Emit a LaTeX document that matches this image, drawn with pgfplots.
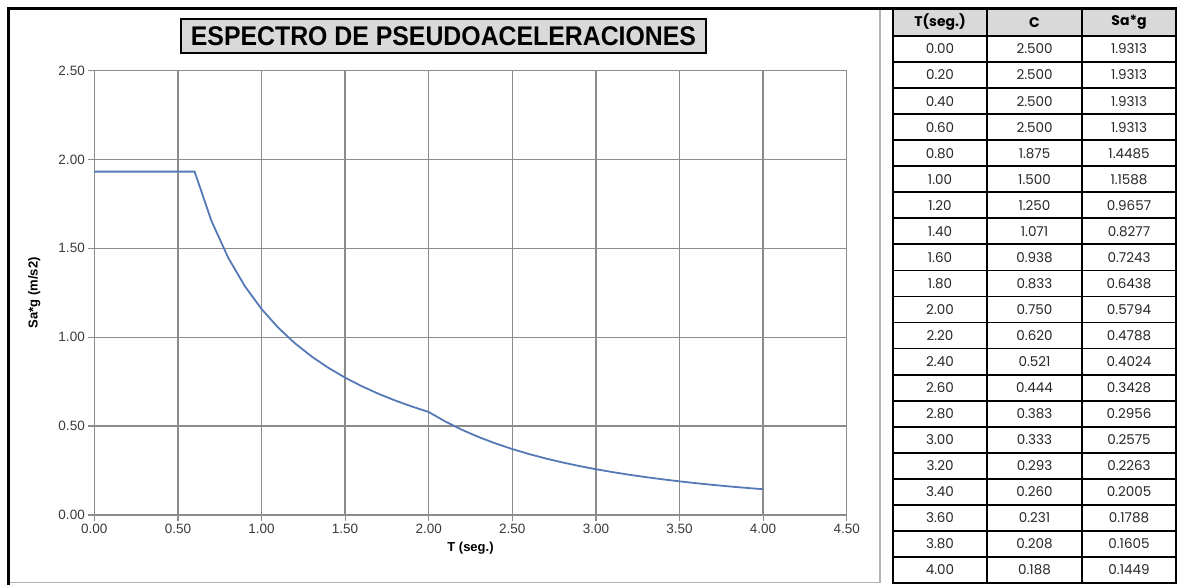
\documentclass[border=0pt]{standalone}
\usepackage{pgfplots}
\pgfplotsset{compat=1.18}
\usepackage{fontspec}
\setmainfont{Liberation Sans}
\newfontfamily\tabfont{Poppins}

\definecolor{curve}{HTML}{5479B4}
\definecolor{gridc}{HTML}{8C8C8C}
\definecolor{hdr}{HTML}{D9D9D9}
\definecolor{ticktxt}{HTML}{3A3A3A}
\definecolor{frame}{HTML}{B4B4B4}

\begin{document}
\begin{tikzpicture}[x=1pt,y=1pt]
\useasboundingbox (0,0) rectangle (1182,585);

% chart area border
\draw[frame, line width=1.8] (8.5,2.5) -- (880,2.5) -- (880,576.5);
\draw[black, line width=2.5] (8.5,0) -- (8.5,576.5) -- (1176,576.5);

% title box
\draw[black, line width=1.6, fill=hdr] (181,532) rectangle (706,566);
\node at (443.5,549) {\scalebox{0.92}[1]{\fontsize{27}{27}\selectfont\bfseries ESPECTRO DE PSEUDOACELERACIONES}};

\begin{axis}[
    at={(94.3pt,70pt)}, anchor=origin,
    scale only axis,
    width=752.4pt, height=444.5pt,
    xmin=0, xmax=4.5,
    ymin=0, ymax=2.5,
    xtick={0,0.5,1,1.5,2,2.5,3,3.5,4,4.5},
    ytick={0,0.5,1,1.5,2,2.5},
    xtick pos=bottom, ytick pos=left,
    tick align=outside,
    major tick length=6pt,
    tick style={gridc, line width=1.2pt},
    grid=major,
    grid style={gridc, line width=1.3pt},
    axis line style={gridc, line width=1.3pt},
    ticklabel style={font=\fontsize{13.5}{14}\selectfont, text=ticktxt},
    xticklabel style={/pgf/number format/.cd, fixed, fixed zerofill, precision=2, assume math mode=true},
    yticklabel style={/pgf/number format/.cd, fixed, fixed zerofill, precision=2, assume math mode=true},
    xlabel={T (seg.)},
    ylabel={Sa*g (m/s2)},
    xlabel style={at={(axis description cs:0.5,-0.0742)}, anchor=center,
                  font=\fontsize{13}{14}\selectfont\bfseries},
    ylabel style={at={(axis description cs:-0.0797,0.5)}, anchor=center,
                  font=\fontsize{13}{14}\selectfont\bfseries},
]
\addplot[curve, line width=1.8pt] coordinates {
  (0.0,1.9313)(0.1,1.9313)(0.2,1.9313)(0.3,1.9313)(0.4,1.9313)(0.5,1.9313)(0.6,1.9313)
  (0.7,1.6554)(0.8,1.4485)(0.9,1.2875)(1.0,1.1588)(1.1,1.0534)(1.2,0.9657)(1.3,0.8914)
  (1.4,0.8277)(1.5,0.7725)(1.6,0.7243)(1.7,0.6816)(1.8,0.6438)(1.9,0.6099)(2.0,0.5794)
  (2.1,0.5255)(2.2,0.4788)(2.3,0.4381)(2.4,0.4024)(2.5,0.3708)(2.6,0.3428)(2.7,0.3179)
  (2.8,0.2956)(2.9,0.2756)(3.0,0.2575)(3.1,0.2412)(3.2,0.2263)(3.3,0.2128)(3.4,0.2005)
  (3.5,0.1892)(3.6,0.1788)(3.7,0.1693)(3.8,0.1605)(3.9,0.1524)(4.0,0.1449)
};
\end{axis}

% data table
\fill[hdr] (893,549) rectangle (1176,576);
\foreach \i in {0,...,21} {
  \draw[black, line width=1.8] (893,{549-\i*26.05}) -- (1176,{549-\i*26.05});
}
\foreach \xx in {893,987,1082,1176} {
  \draw[black, line width=1.8] (\xx,576.5) -- (\xx,2);
}
\draw[black, line width=2.2] (893,576.5) rectangle (1176,2);
\tabfont
\node[font=\fontsize{14}{14}\selectfont\bfseries] at (940,562.5) {T(seg.)};
\node[font=\fontsize{14}{14}\selectfont\bfseries] at (1034.5,562.5) {C};
\node[font=\fontsize{14}{14}\selectfont\bfseries] at (1129,562.5) {Sa*g};
\foreach \t/\c/\s [count=\k from 0] in {
  0.00/2.500/1.9313, 0.20/2.500/1.9313, 0.40/2.500/1.9313, 0.60/2.500/1.9313,
  0.80/1.875/1.4485, 1.00/1.500/1.1588, 1.20/1.250/0.9657, 1.40/1.071/0.8277,
  1.60/0.938/0.7243, 1.80/0.833/0.6438, 2.00/0.750/0.5794, 2.20/0.620/0.4788,
  2.40/0.521/0.4024, 2.60/0.444/0.3428, 2.80/0.383/0.2956, 3.00/0.333/0.2575,
  3.20/0.293/0.2263, 3.40/0.260/0.2005, 3.60/0.231/0.1788, 3.80/0.208/0.1605,
  4.00/0.188/0.1449} {
  \pgfmathsetmacro{\yy}{549-(\k+0.5)*26.05}
  \node[font=\fontsize{13.5}{14}\selectfont, text=black!85] at (940,\yy) {\t};
  \node[font=\fontsize{13.5}{14}\selectfont, text=black!85] at (1034.5,\yy) {\c};
  \node[font=\fontsize{13.5}{14}\selectfont, text=black!85] at (1129,\yy) {\s};
}
\end{tikzpicture}
\end{document}
